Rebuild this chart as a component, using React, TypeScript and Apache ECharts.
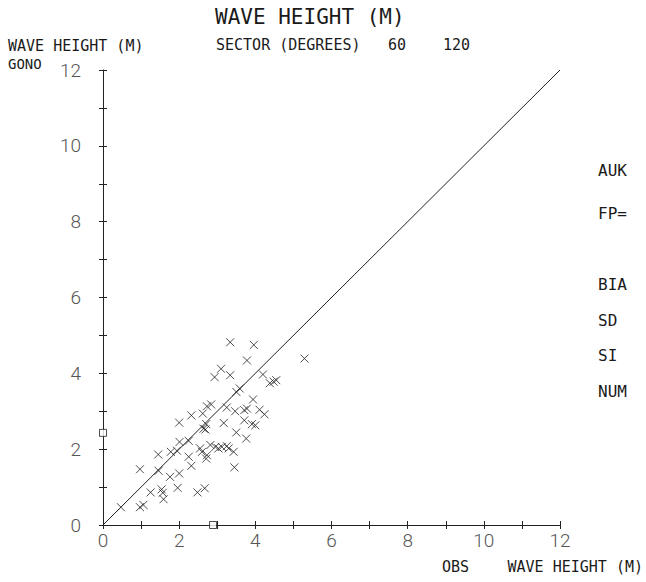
import React, { useEffect, useRef } from "react";
import * as echarts from "echarts";

// Observed wave height (x) vs modelled GONO wave height (y), metres
const obsHeight: number[] = [
  3.34, 3.96, 3.78, 5.29, 3.10, 2.93, 3.34, 4.20, 4.38, 4.48, 4.55, 3.59, 3.50, 3.94,
  3.25, 3.47, 3.71, 3.78, 4.11, 4.24, 2.73, 2.84, 2.62, 2.32, 2.00, 2.71, 2.64, 2.69,
  3.17, 3.71, 3.91, 4.00, 3.50, 3.76, 2.25, 2.01, 1.94, 1.78, 1.45, 2.55, 2.82, 2.95,
  3.03, 3.12, 3.25, 3.30, 3.43, 2.73, 2.71, 2.60, 2.25, 2.32, 3.45, 0.97, 1.46, 2.00,
  1.76, 1.96, 1.54, 1.57, 1.59, 1.25, 2.48, 2.67, 0.47, 0.97, 1.06,
];
const gonoHeight: number[] = [
  4.82, 4.75, 4.34, 4.39, 4.12, 3.90, 3.95, 3.97, 3.74, 3.78, 3.82, 3.60, 3.51, 3.31,
  3.10, 3.00, 3.03, 3.07, 3.04, 2.92, 3.13, 3.18, 2.94, 2.89, 2.70, 2.66, 2.54, 2.52,
  2.69, 2.76, 2.66, 2.63, 2.44, 2.28, 2.22, 2.19, 1.96, 1.93, 1.86, 2.02, 2.11, 2.06,
  2.02, 2.06, 2.08, 2.02, 1.93, 1.84, 1.75, 1.93, 1.80, 1.56, 1.52, 1.47, 1.43, 1.36,
  1.27, 0.98, 0.94, 0.85, 0.68, 0.86, 0.86, 0.97, 0.47, 0.47, 0.53,
];
// Mean markers on the axes
const meanObs = 2.89;
const meanGono = 2.43;
// Perfect-agreement line
const diagonal: number[][] = [
  [0, 0],
  [12, 12],
];
const axisMin = 0;
const axisMax = 12;
const tickStep = 1;

const titleText = "WAVE HEIGHT (M)";
const yAxisTitle = "WAVE HEIGHT (M)";
const modelName = "GONO";
const sectorText = "SECTOR (DEGREES)";
const sectorFrom = "60";
const sectorTo = "120";
const xAxisPrefix = "OBS";
const xAxisTitle = "WAVE HEIGHT (M)";
const statLabels: string[] = ["AUK", "FP=", "BIA", "SD", "SI", "NUM"];

const MONO = "'DejaVu Sans Mono', monospace";
const INK = "#1a1a1a";
const NUM_COLOR = "#555";

export default function App() {
  const ref = useRef<HTMLDivElement>(null);

  useEffect(() => {
    if (!ref.current) return;
    const chart = echarts.init(ref.current, undefined, { renderer: "svg" });
    const points = obsHeight.map((x, i) => [x, gonoHeight[i]]);
    const evenOnly = (v: number) => (v % 2 === 0 ? String(v) : "");
    const numLabel = {
      fontFamily: "Roboto",
      fontWeight: 300 as any,
      fontSize: 19,
      color: NUM_COLOR,
    };
    const statY = [170, 213, 284, 320, 355, 391];
    const gridRect = { left: 103, right: 86, top: 70, bottom: 57, containLabel: false };

    const txt = (text: string, x: number, y: number, size: number, align = "left") => ({
      type: "text",
      x,
      y,
      style: {
        text,
        fontFamily: MONO,
        fontSize: size,
        fill: INK,
        align,
        verticalAlign: "middle",
      },
    });

    // Axis with line and labels (grid 0)
    const mainAxis = (labelMargin: number) => ({
      type: "value",
      gridIndex: 0,
      min: axisMin,
      max: axisMax,
      interval: tickStep,
      splitLine: { show: false },
      axisLine: { show: true, onZero: false, lineStyle: { color: "#222", width: 1 } },
      axisTick: { show: false },
      axisLabel: { ...numLabel, margin: labelMargin, formatter: evenOnly },
    });
    // Axis drawing only crossing ticks (grid 1), shifted half a tick inward
    const crossTickAxis = () => ({
      type: "value",
      gridIndex: 1,
      min: axisMin,
      max: axisMax,
      interval: tickStep,
      offset: -4,
      splitLine: { show: false },
      axisLine: { show: false, onZero: false },
      axisTick: { show: true, inside: false, length: 8, lineStyle: { color: "#222", width: 1 } },
      axisLabel: { show: false },
    });

    chart.setOption({
      animation: false,
      backgroundColor: "#ffffff",
      grid: [gridRect, gridRect],
      xAxis: [
        { ...mainAxis(6), position: "bottom" },
        { ...crossTickAxis(), position: "bottom" },
      ],
      yAxis: [
        { ...mainAxis(22), position: "left" },
        { ...crossTickAxis(), position: "left" },
      ],
      series: [
        {
          type: "line",
          xAxisIndex: 0,
          yAxisIndex: 0,
          data: diagonal,
          symbol: "none",
          lineStyle: { color: "#222", width: 1 },
          silent: true,
        },
        {
          type: "scatter",
          xAxisIndex: 0,
          yAxisIndex: 0,
          data: points,
          symbol: "path://M0,0L10,10M10,0L0,10",
          symbolSize: 8,
          itemStyle: { color: "none", borderColor: "#222", borderWidth: 1 },
        },
        {
          type: "scatter",
          xAxisIndex: 0,
          yAxisIndex: 0,
          data: [
            [meanObs, axisMin],
            [axisMin, meanGono],
          ],
          symbol: "rect",
          symbolSize: 7,
          clip: false,
          itemStyle: { color: "#fff", borderColor: "#222", borderWidth: 1 },
          z: 5,
        },
        {
          type: "scatter",
          xAxisIndex: 1,
          yAxisIndex: 1,
          data: [],
          silent: true,
        },
      ],
      graphic: [
        txt(titleText, 215, 17, 21),
        txt(yAxisTitle, 8, 46, 15),
        txt(sectorText, 216, 45, 15),
        txt(sectorFrom, 388, 45, 15),
        txt(sectorTo, 443, 45, 15),
        txt(modelName, 8, 64, 14),
        txt(xAxisPrefix, 442, 567, 15),
        txt(xAxisTitle, 643, 567, 15, "right"),
        ...statLabels.map((s, i) => txt(s, 598, statY[i], 16)),
      ],
    });
    return () => chart.dispose();
  }, []);

  return (
    <div
      ref={ref}
      style={{ position: "fixed", left: 0, top: 0, width: 646, height: 582, background: "#fff" }}
    />
  );
}
